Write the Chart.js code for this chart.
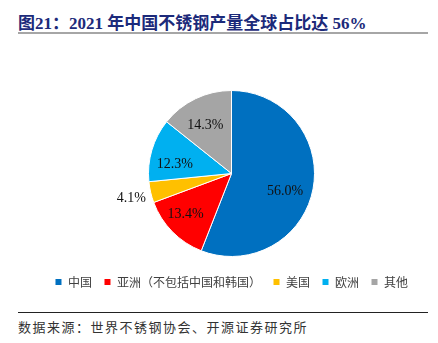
<!DOCTYPE html>
<html>
<head>
<meta charset="utf-8">
<script src="https://cdn.jsdelivr.net/npm/chart.js@4"></script>
<style>
    body { margin: 0; background: #fff; }
    #page { position: relative; width: 438px; height: 343px; overflow: hidden; }
    .title {
        position: absolute; left: 18px; top: 9px;
        font: bold 17px "Liberation Serif", "Noto Sans CJK SC", serif;
        color: #1c2a7a; white-space: nowrap;
    }
    .rule-top { position: absolute; left: 18px; top: 32px; width: 410px; height: 2px; background: #a6a6a6; }
    .rule-bottom { position: absolute; left: 18px; top: 312px; width: 410px; height: 1px; background: #222; }
    .source {
        position: absolute; left: 18px; top: 317px;
        font: 13px "Noto Sans CJK SC", sans-serif; letter-spacing: 1.5px;
        color: #333; white-space: nowrap;
    }
    #chart-box { position: absolute; left: 0; top: 0; width: 438px; height: 300px; }
</style>
</head>
<body>
<div id="page">
    <div class="title">图21：2021 年中国不锈钢产量全球占比达 56%</div>
    <div class="rule-top"></div>
    <div id="chart-box"><canvas id="share-chart"></canvas></div>
    <div class="rule-bottom"></div>
    <div class="source">数据来源：世界不锈钢协会、开源证券研究所</div>
</div>
<script>
// 2021 stainless steel output share by region (%)
const regions = ['中国', '亚洲（不包括中国和韩国）', '美国', '欧洲', '其他'];
const shares = [56.0, 13.4, 4.1, 12.3, 14.3];
const sliceColors = ['#0070c0', '#ff0000', '#ffc000', '#00b0f0', '#a5a5a5'];
// label distance from centre (fraction of radius) plus a small pixel nudge
const labelRadius = [0.68, 0.71, 1.25, 0.7, 0.7];
const labelNudge = [[-2, 7], [-4, 0], [1, 1], [-1, 7], [-1, 4]];

// draws the percentage text for each slice
const sliceLabels = {
    id: 'sliceLabels',
    afterDatasetsDraw(chart) {
        const ctx = chart.ctx;
        const arcs = chart.getDatasetMeta(0).data;
        ctx.save();
        ctx.font = '14px "Liberation Serif", serif';
        ctx.fillStyle = '#111';
        ctx.textAlign = 'center';
        ctx.textBaseline = 'middle';
        arcs.forEach((arc, i) => {
            const p = arc.getProps(['x', 'y', 'startAngle', 'endAngle', 'outerRadius'], true);
            const mid = (p.startAngle + p.endAngle) / 2;
            const r = p.outerRadius * labelRadius[i];
            const x = p.x + Math.cos(mid) * r + labelNudge[i][0];
            const y = p.y + Math.sin(mid) * r + labelNudge[i][1];
            ctx.fillText(shares[i].toFixed(1) + '%', x, y);
        });
        ctx.restore();
    }
};

new Chart(document.getElementById('share-chart'), {
    type: 'pie',
    data: {
        labels: regions,
        datasets: [{
            data: shares,
            backgroundColor: sliceColors,
            borderColor: '#fff',
            borderWidth: 1
        }]
    },
    options: {
        responsive: true,
        maintainAspectRatio: false,
        animation: false,
        radius: 83,
        layout: { padding: { top: 83, left: 25, right: 0, bottom: 2 } },
        plugins: {
            tooltip: { enabled: false },
            legend: {
                position: 'bottom',
                labels: {
                    boxWidth: 7,
                    boxHeight: 7,
                    padding: 12,
                    color: '#404040',
                    font: { size: 12, family: '"Noto Sans CJK SC", sans-serif' }
                }
            }
        }
    },
    plugins: [sliceLabels]
});
</script>
</body>
</html>
